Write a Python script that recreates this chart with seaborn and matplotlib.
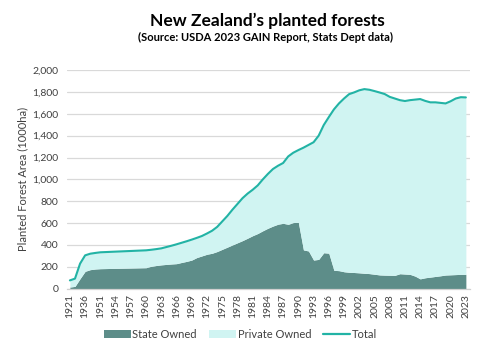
import numpy as np
import pandas as pd
import matplotlib
matplotlib.use("Agg")
import matplotlib.pyplot as plt
from matplotlib.patches import Patch
from matplotlib.lines import Line2D
from matplotlib.ticker import FuncFormatter
import seaborn as sns

years = [1921, 1926, 1931, 1936, 1941, 1946] + list(range(1951, 2024))

total = [76, 92, 229, 305, 320, 327, 333, 335, 337, 339, 341, 343, 345, 347, 349, 351,
         356, 362, 369, 381, 393, 406, 420, 434, 449, 465, 482, 505, 530, 565, 615, 665,
         722, 775, 828, 870, 905, 945, 1000, 1050, 1095, 1125, 1150, 1210, 1244, 1268,
         1290, 1315, 1340, 1400, 1497, 1570, 1640, 1695, 1740, 1780, 1796, 1815, 1826,
         1820, 1808, 1795, 1781, 1755, 1740, 1725, 1717, 1725, 1730, 1735, 1718, 1705,
         1705, 1700, 1695, 1715, 1740, 1752, 1750]

state = [15, 21, 92, 159, 174, 180, 183, 184, 185, 186, 187, 188, 189, 190, 191, 192,
         205, 212, 218, 222, 226, 229, 240, 250, 262, 285, 300, 315, 324, 340, 360, 380,
         400, 420, 440, 462, 485, 505, 530, 553, 573, 590, 598, 589, 605, 607, 355, 345,
         262, 268, 329, 325, 168, 165, 155, 150, 148, 145, 141, 138, 132, 126, 124, 123,
         122, 137, 134, 131, 115, 90, 100, 106, 112, 118, 125, 127, 129, 131, 131]

y_ticks = list(range(0, 2001, 200))

title = "New Zealand\u2019s planted forests"
subtitle = "(Source: USDA 2023 GAIN Report, Stats Dept data)"
y_label = "Planted Forest Area (1000ha)"

C_STATE = "#5d8d89"
C_PRIV = "#d0f4f2"
C_TOTAL = "#22b3a5"
C_TEXT = "#404040"

df = pd.DataFrame({"year": years, "total": total, "state": state})
df["pos"] = np.arange(len(df))

sns.set_theme(style="white")
plt.rcParams["font.family"] = ["Lato", "DejaVu Sans"]

fig = plt.figure(figsize=(4.81, 3.54), dpi=100)
ax = fig.add_axes([0.139, 0.1845, 0.838, 0.6175])

ax.fill_between(df["pos"], 0, df["state"], color=C_STATE, linewidth=0, zorder=2)
ax.fill_between(df["pos"], df["state"], df["total"], color=C_PRIV, linewidth=0, zorder=2)
sns.lineplot(data=df, x="pos", y="total", ax=ax, color=C_TOTAL, linewidth=1.5, zorder=3)

ax.set_ylim(0, 2000)
ax.set_xlim(-0.6, len(df) - 1 + 0.8)
ax.set_yticks(y_ticks)
ax.yaxis.set_major_formatter(FuncFormatter(lambda v, p: f"{int(v):,}"))
ax.grid(axis="y", color="#d9d9d9", linewidth=0.9, zorder=0)
ax.set_axisbelow(True)

tick_pos = df["pos"].values[::3]
ax.set_xticks(tick_pos)
ax.set_xticklabels([str(y) for y in df["year"].values[::3]], rotation=90)
ax.tick_params(axis="both", labelsize=7.5, colors=C_TEXT, length=0, pad=4)
ax.tick_params(axis="y", pad=6)

for s in ["top", "right", "left"]:
    ax.spines[s].set_visible(False)
ax.spines["bottom"].set_color("#d0d0d0")
ax.spines["bottom"].set_linewidth(0.9)

ax.set_xlabel("")
ax.set_ylabel(y_label, fontsize=8, color=C_TEXT, labelpad=3)

fig.text(0.555, 0.94, title, ha="center", va="center", fontsize=12.5,
         fontweight="bold", color="black")
fig.text(0.553, 0.895, subtitle, ha="center", va="center", fontsize=8,
         fontweight="bold", color="black")

handles = [Patch(facecolor=C_STATE, edgecolor="none"),
           Patch(facecolor=C_PRIV, edgecolor="none"),
           Line2D([0], [0], color=C_TOTAL, linewidth=1.6)]
labels = ["State Owned", "Private Owned", "Total"]
fig.legend(handles, labels, loc="center", bbox_to_anchor=(0.5, 0.055), ncol=3,
           frameon=False, fontsize=8, handlelength=2.4, handleheight=0.8,
           columnspacing=1.1, handletextpad=0.15, labelcolor=C_TEXT)

fig.savefig("out.png", dpi=100)
